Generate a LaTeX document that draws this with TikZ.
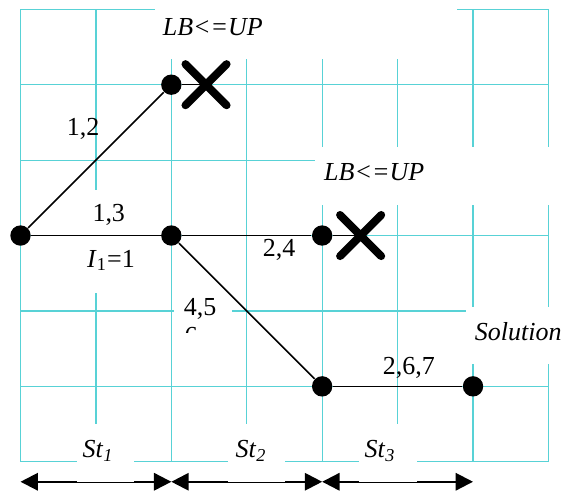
\documentclass[tikz,border=0pt]{standalone}
\usepackage{fontspec}
\setmainfont{Liberation Serif}
\usetikzlibrary{arrows.meta,shapes.misc}
\definecolor{gridcyan}{RGB}{88,210,214}

\begin{document}
\begin{tikzpicture}[
    dot/.style={
        circle,
        fill=black,
        inner sep=0pt,
        minimum size=0.27cm
    },
    edge/.style={
        black,
        line width=0.6pt
    },
    cutmark/.style={
        cross out,
        draw=black,
        line width=3pt,
        line cap=round,
        inner sep=0pt,
        minimum size=0.44cm
    },
    lbl/.style={
        font=\fontsize{9.8}{11.8}\selectfont,
        inner sep=0pt
    },
    mask/.style={
        fill=white
    },
    stage/.style={
        {Triangle[length=0.23cm,width=0.23cm]}-{Triangle[length=0.23cm,width=0.23cm]},
        line width=0.8pt,
        black
    }
]

\useasboundingbox (-0.272,-0.375) rectangle (7.18,6.123);

% Grid
\draw[gridcyan, line width=0.45pt] (0,0) grid (7,6);

% Stage arrows
\draw[stage] (0,-0.265) -- (2,-0.265);
\draw[stage] (2,-0.265) -- (4,-0.265);
\draw[stage] (4,-0.265) -- (6,-0.265);

% Text box backgrounds
\fill[mask] (1.78,5.34) rectangle (5.79,6.2);
\fill[mask] (3.91,3.40) rectangle (7.2,4.17);
\fill[mask] (0.72,2.24) rectangle (1.72,3.60);
\fill[mask] (2.04,1.71) rectangle (2.80,2.40);
\fill[mask] (5.91,1.30) rectangle (7.2,2.05);
\fill[mask] (0.75,-0.265) rectangle (1.51,0.50);
\fill[mask] (2.75,-0.265) rectangle (3.51,0.50);
\fill[mask] (4.49,-0.265) rectangle (5.26,0.50);

% Tree nodes
\node[dot] (n0) at (0,3) {};
\node[dot] (n12) at (2,5) {};
\node[dot] (n13) at (2,3) {};
\node[dot] (n24) at (4,3) {};
\node[dot] (n45) at (4,1) {};
\node[dot] (n267) at (6,1) {};

% Branches
\draw[edge] (n0) -- (n12);
\draw[edge] (n0) -- (n13);
\draw[edge] (n13) -- (n24);
\draw[edge] (n13) -- (n45);
\draw[edge] (n45) -- (n267);

% Pruned branches
\node[cutmark] (cut1) at (2.46,5) {};
\node[cutmark] (cut2) at (4.51,3) {};
\draw[edge] (n12) -- (cut1.center);
\draw[edge] (n24) -- (cut2.center);

% Labels
\node[lbl] (lb1) at (2.55,5.77) {\textit{LB<=UP}};
\node[lbl] (lb2) at (4.69,3.84) {\textit{LB<=UP}};
\node[lbl] (e12) at (0.83,4.42) {1,2};
\node[lbl] (e13) at (1.17,3.27) {1,3};
\node[lbl] (i1) at (1.20,2.67) {\textit{I}\textsubscript{1}=1};
\node[lbl] (e24) at (3.43,2.81) {2,4};
\node[lbl, anchor=base west] (e45) at (2.16,1.946) {4,5};
\begin{scope}
    \clip (2.04,1.71) rectangle (2.80,2.40);
    \node[lbl, anchor=base west] (e456) at (2.17,1.56) {6};
\end{scope}
\node[lbl] (e267) at (5.15,1.24) {2,6,7};
\node[lbl] (sol) at (6.60,1.72) {\textit{Solution}};

% Stage labels
\node[lbl] (st1) at (1.03,0.14) {\textit{St}\textsubscript{\textit{1}}};
\node[lbl] (st2) at (3.06,0.14) {\textit{St}\textsubscript{\textit{2}}};
\node[lbl] (st3) at (4.77,0.14) {\textit{St}\textsubscript{\textit{3}}};

\end{tikzpicture}
\end{document}
